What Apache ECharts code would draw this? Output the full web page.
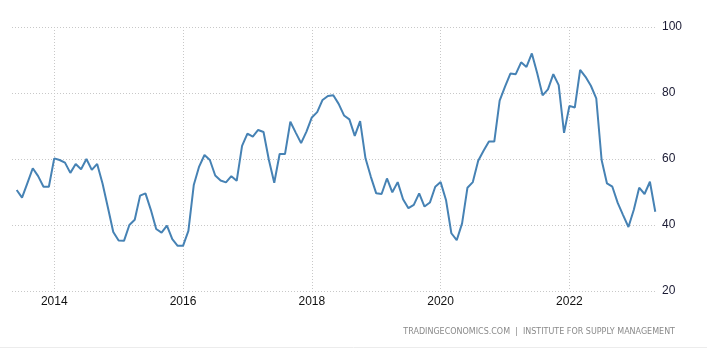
<!DOCTYPE html>
<html>
<head>
<meta charset="utf-8">
<script src="https://cdn.jsdelivr.net/npm/echarts@6/dist/echarts.min.js"></script>
<style>
  html, body { margin: 0; padding: 0; background: #fff; }
  #main { width: 707px; height: 352px; }
</style>
</head>
<body>
<div id="main"></div>
<script>
// monthly series, june 2013 .. may 2023
const startYear = 2013;
const startMonth = 6;
const values = [
  50.6, 48.3, 52.7, 57.2, 54.8, 51.6, 51.6, 60.2, 59.7, 58.9,
  55.8, 58.5, 56.9, 60.0, 56.7, 58.5, 52.6, 45.3, 37.9, 35.3,
  35.2, 40.0, 41.6, 48.9, 49.6, 44.6, 38.8, 37.7, 39.8, 35.7,
  33.7, 33.7, 38.2, 52.1, 57.7, 61.2, 59.7, 55.0, 53.5, 52.9,
  54.8, 53.4, 64.0, 67.7, 66.8, 68.8, 68.2, 59.7, 52.8, 61.5,
  61.5, 71.3, 68.0, 64.8, 68.3, 72.6, 74.2, 77.9, 79.1, 79.3,
  76.7, 73.2, 72.0, 67.0, 71.5, 60.2, 54.6, 49.6, 49.4, 54.1,
  49.9, 53.0, 47.8, 45.1, 46.1, 49.6, 45.6, 46.8, 51.6, 53.0,
  47.6, 37.5, 35.4, 40.5, 51.3, 53.0, 59.5, 62.5, 65.3, 65.3,
  77.7, 81.9, 85.9, 85.7, 89.3, 87.9, 92.0, 86.0, 79.3, 81.1,
  85.7, 82.4, 67.9, 76.1, 75.6, 87.0, 84.9, 82.2, 78.4, 59.7,
  52.6, 51.6, 46.7, 43.0, 39.4, 44.6, 51.3, 49.4, 53.1, 44.0
];
const yearTicks = ['2014', '2016', '2018', '2020', '2022'];
const yTicks = [20, 40, 60, 80, 100];

const months = values.map((_, i) => {
  const m = startMonth - 1 + i;
  return (startYear + Math.floor(m / 12)) + '-' + String(m % 12 + 1).padStart(2, '0');
});
const tickIdx = yearTicks.map(y => months.indexOf(y + '-01'));

const chart = echarts.init(document.getElementById('main'));
const gridLine = { show: true, lineStyle: { color: '#c8c8c8', type: [1, 2], width: 1 } };

chart.setOption({
  animation: false,
  grid: { left: 12, right: 50, top: 27, bottom: 61 },
  xAxis: {
    type: 'value',
    min: -0.87,
    max: 119.32,
    axisLine: { show: false },
    axisTick: { show: false, customValues: tickIdx },
    axisLabel: {
      customValues: tickIdx,
      formatter: v => months[Math.round(v)].slice(0, 4),
      color: '#111',
      fontFamily: '"Liberation Sans Narrow", "Liberation Sans", sans-serif',
      fontSize: 12,
      margin: 5
    },
    splitLine: gridLine
  },
  yAxis: {
    type: 'value',
    position: 'right',
    min: yTicks[0],
    max: yTicks[yTicks.length - 1],
    interval: 20,
    axisLine: { show: false },
    axisTick: { show: false },
    axisLabel: {
      color: '#1a1a33',
      fontFamily: '"Liberation Sans Narrow", "Liberation Sans", sans-serif',
      fontSize: 12,
      margin: 5
    },
    splitLine: gridLine
  },
  series: [{
    type: 'line',
    data: values.map((v, i) => [i, v]),
    showSymbol: false,
    lineStyle: { color: '#4682b4', width: 2 },
    itemStyle: { color: '#4682b4' }
  }],
  graphic: [
    {
      type: 'text',
      right: 32,
      top: 328,
      style: {
        text: 'TRADINGECONOMICS.COM  |  INSTITUTE FOR SUPPLY MANAGEMENT',
        fill: '#8a8a8a',
        font: '8px "DejaVu Sans", sans-serif'
      }
    },
    {
      type: 'line',
      shape: { x1: 0, y1: 347.5, x2: 707, y2: 347.5 },
      style: { stroke: '#ececec', lineWidth: 1 }
    }
  ]
});
</script>
</body>
</html>
